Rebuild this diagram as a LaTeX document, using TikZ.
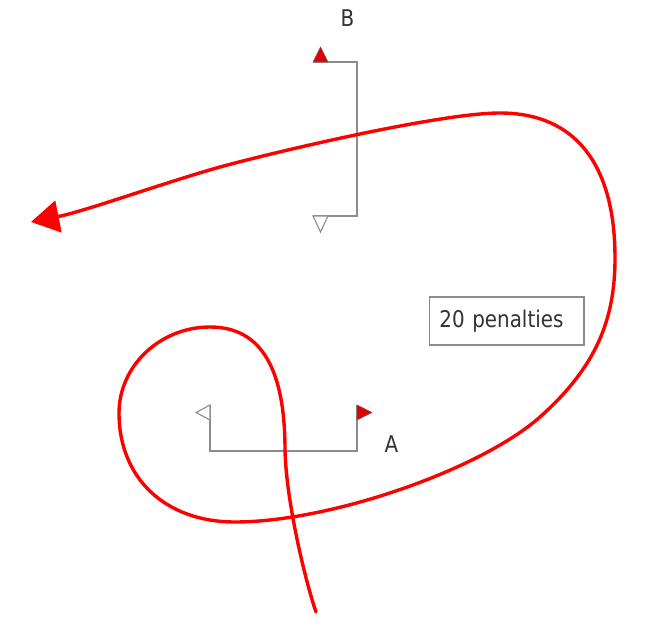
\documentclass[tikz,border=0pt]{standalone}
\usepackage{fontspec}
\setmainfont[FakeStretch=0.865]{DejaVu Sans}
\usepackage{tikz}
\usetikzlibrary{arrows.meta}
\definecolor{coursered}{RGB}{255,0,0}
\definecolor{gategray}{RGB}{140,140,140}
\definecolor{flagred}{RGB}{225,0,0}
\definecolor{textgray}{RGB}{50,50,50}

\begin{document}
\begin{tikzpicture}[
  x=1pt,y=-1pt,
  gateline/.style={draw=gategray,line width=1.4pt},
  redflag/.style={draw=gategray!70!black,line width=0.6pt,fill=flagred},
  whiteflag/.style={draw=gategray,line width=1.1pt,fill=white},
  label/.style={font=\fontsize{23}{26}\selectfont,text=textgray,inner sep=0pt},
  penbox/.style={draw=gategray,line width=1.2pt,minimum height=48pt,
    inner xsep=10pt,text width=134.7pt,align=left,text=textgray,
    font=\fontsize{23}{26}\selectfont},
  course/.style={draw=coursered,line width=3.4pt,line cap=round,
    -{Triangle[length=28pt,width=32pt]}}
]
\useasboundingbox (0,0) rectangle (664,628);
% gate B
\draw[gateline] (313,62) -- (357,62) -- (357,216) -- (313,216);
\draw[redflag] (313,62) -- (328,62) -- (320.5,47) -- cycle;
\draw[whiteflag] (313,216) -- (328,216) -- (320.5,232) -- cycle;
\node[label] (gateB) at (347.5,18) {B};
% gate A
\draw[gateline] (210,405) -- (210,451) -- (357,451) -- (357,405);
\draw[whiteflag] (210,405) -- (210,420) -- (196,412.5) -- cycle;
\draw[redflag] (357,405) -- (357,420) -- (372,412.5) -- cycle;
\node[label] (gateA) at (391.5,444.5) {A};
% penalty note
\node[penbox] (pen) at (506.7,321) {20 penalties};
% course: loop round A, then round B
\coordinate (start) at (316,612);
\coordinate (finish) at (31,222);
\draw[course] (start)
  .. controls (305,580) and (286,500) .. (285,450)
  .. controls (285,370) and (262,327) .. (210,327)
  .. controls (160,327) and (119,366) .. (119,413)
  .. controls (119,478) and (165,522) .. (235,522)
  .. controls (330,522) and (480,470) .. (540,417)
  .. controls (596,367) and (615,320) .. (615,258)
  .. controls (615,164) and (575,113) .. (500,113)
  .. controls (440,113) and (275,152) .. (220,167)
  .. controls (160,184) and (86,211) .. (finish);
\end{tikzpicture}
\end{document}
